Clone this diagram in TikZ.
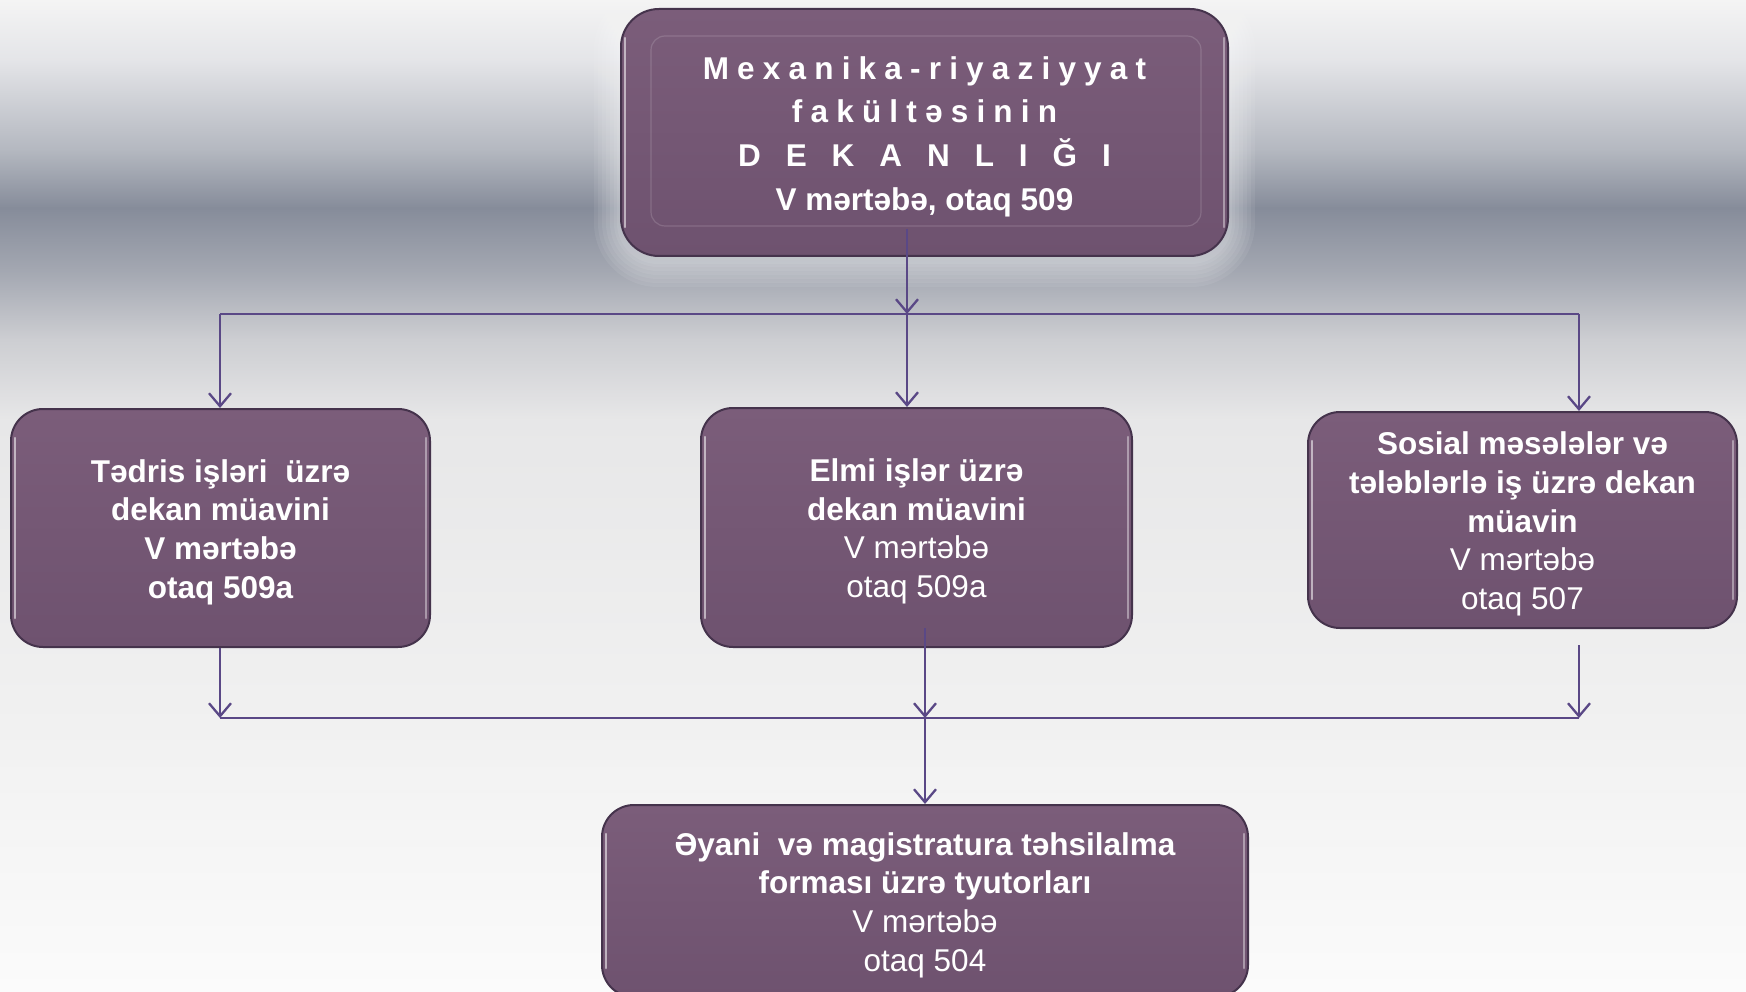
\documentclass[tikz,border=0pt]{standalone}
\usepackage{fontspec}
\setmainfont{Liberation Sans}
\newfontfamily\spacedfont[LetterSpace=26]{Liberation Sans}
\usetikzlibrary{arrows.meta,calc}
\definecolor{boxtop}{HTML}{7B5D7A}
\definecolor{boxbot}{HTML}{6E526F}
\definecolor{boxline}{HTML}{45334C}
\definecolor{linec}{HTML}{5A4886}
\definecolor{bg0}{HTML}{F4F4F4}
\definecolor{bg1}{HTML}{E4E5E8}
\definecolor{bg2}{HTML}{B4B8C0}
\definecolor{bg3}{HTML}{868C9A}
\definecolor{bg4}{HTML}{A4A8B2}
\definecolor{bg5}{HTML}{CDCED2}
\definecolor{bg6}{HTML}{E7E7E8}
\definecolor{bg7}{HTML}{F0F0F0}
\definecolor{bg8}{HTML}{FBFBFB}
\pgfdeclarelayer{back}
\pgfdeclarelayer{glow}
\pgfsetlayers{back,glow,main}
\tikzset{
  box/.style={rectangle, rounded corners=32pt, draw=boxline, line width=2pt,
    top color=boxtop, bottom color=boxbot, inner sep=0pt},
  txt/.style={text=white, align=center, inner sep=0pt,
    font=\fontsize{31.5}{38.6}\selectfont\bfseries},
  arr/.style={-{Straight Barb[length=13pt,width=22pt]}, line width=2.3pt, draw=linec},
  plain/.style={line width=2.3pt, draw=linec},
  innerline/.style={draw=white, draw opacity=0.15, line width=1.2pt, rounded corners=14pt},
  gloss/.style={draw=white, draw opacity=0.55, line width=2.5pt, line cap=round}
}
\newcommand{\glossy}[1]{%
  \draw[gloss] ([xshift=5pt,yshift=-30pt]#1.north west) -- ([xshift=5pt,yshift=30pt]#1.south west);
  \draw[gloss, draw opacity=0.4] ([xshift=-5pt,yshift=-30pt]#1.north east) -- ([xshift=-5pt,yshift=30pt]#1.south east);
}
\begin{document}
\begin{tikzpicture}[x=1pt,y=-1pt]
\useasboundingbox (0,0) rectangle (1746,992);
\begin{pgfonlayer}{back}
\fill[top color=bg0, bottom color=bg1] (0,0) rectangle (1746,60);
\fill[top color=bg1, bottom color=bg2] (0,60) rectangle (1746,150);
\fill[top color=bg2, bottom color=bg3] (0,150) rectangle (1746,208);
\fill[top color=bg3, bottom color=bg4] (0,208) rectangle (1746,272);
\fill[top color=bg4, bottom color=bg5] (0,272) rectangle (1746,340);
\fill[top color=bg5, bottom color=bg6] (0,340) rectangle (1746,420);
\fill[top color=bg6, bottom color=bg7] (0,420) rectangle (1746,700);
\fill[top color=bg7, bottom color=bg8] (0,700) rectangle (1746,992);
\end{pgfonlayer}

% boxes
\node[box, rounded corners=38pt, minimum width=607pt, minimum height=247pt] (top) at (924.5,132.5) {};
\node[box, minimum width=419pt, minimum height=238pt] (left) at (220.5,528) {};
\node[box, minimum width=431pt, minimum height=239pt] (mid) at (916.5,527.5) {};
\node[box, minimum width=429pt, minimum height=216pt] (right) at (1522.5,520) {};
\node[box, minimum width=646pt, minimum height=192pt] (bot) at (925,901) {};

\draw[innerline] ($(top.north west)+(31,28)$) rectangle ($(top.south east)+(-28,-31)$);
\glossy{top}\glossy{left}\glossy{mid}\glossy{right}\glossy{bot}

% texts
\node[txt, font=\fontsize{31.5}{43.7}\selectfont\bfseries] (topT) at ([yshift=-4pt]top.center)
  {{\spacedfont\bfseries Mexanika-riyaziyyat}\\{\spacedfont\bfseries fakültəsinin}\\{\spacedfont\bfseries D\kern8pt{} E\kern8pt{} K\kern8pt{} A\kern8pt{} N\kern8pt{} L\kern8pt{} I\kern8pt{} Ğ\kern8pt{} I}\\V mərtəbə, otaq 509};
\node[txt] (leftT) at ([yshift=-4pt]left.center)
  {Tədris işləri~ üzrə\\dekan müavini\\V mərtəbə\\otaq 509a};
\node[txt] (midT) at ([yshift=-4pt]mid.center)
  {Elmi işlər üzrə\\dekan müavini\\{\mdseries V mərtəbə}\\{\mdseries otaq 509a}};
\node[txt] (rightT) at ([yshift=-4pt]right.center)
  {Sosial məsələlər və\\tələblərlə iş üzrə dekan\\müavin\\{\mdseries V mərtəbə}\\{\mdseries otaq 507}};
\node[txt] (botT) at ([yshift=-4pt]bot.center)
  {Əyani~ və magistratura təhsilalma\\forması üzrə tyutorları\\{\mdseries V mərtəbə}\\{\mdseries otaq 504}};

\begin{pgfonlayer}{glow}
\foreach \g in {26,22,18,14,10,6,3}{
  \fill[white, opacity=0.07, rounded corners=38pt+\g pt]
    ($(top.north west)+(-\g,-\g+4)$) rectangle ($(top.south east)+(\g,\g+4)$);
}
\end{pgfonlayer}

% junction coordinates
\coordinate (hL) at (220,314);
\coordinate (hT) at (907,314);
\coordinate (hR) at (1579,314);
\coordinate (bL) at (220,718);
\coordinate (bM) at (925,718);
\coordinate (bR) at (1579,718);
\coordinate (tS) at ([yshift=28pt]top.south);
\coordinate (mS) at ([yshift=20pt]mid.south);
\coordinate (rS) at ([yshift=-16pt]right.south);

\draw[plain] (hL) -- (hR);
\draw[arr] (tS -| hT) -- (hT);
\draw[arr] (hT) -- (hT |- mid.north);
\draw[arr] (hL) -- (hL |- left.north);
\draw[arr] (hR) -- (hR |- right.north);

\draw[plain] (bL) -- (bR);
\draw[arr] (bL |- left.south) -- (bL);
\draw[arr] (mS -| bM) -- (bM);
\draw[arr] (rS -| bR) -- (bR);
\draw[arr] (bM) -- (bM |- bot.north);
\end{tikzpicture}
\end{document}
